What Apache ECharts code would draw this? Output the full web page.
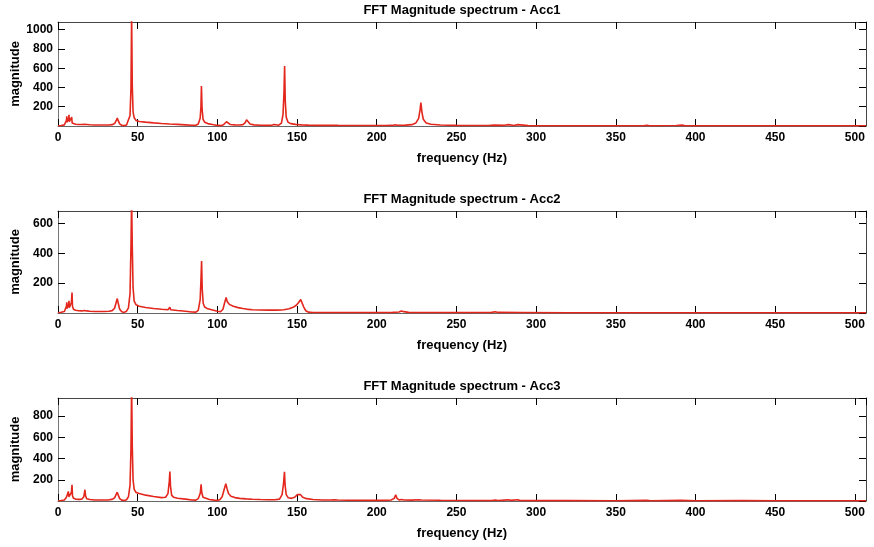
<!DOCTYPE html>
<html>
<head>
<meta charset="UTF-8">
<title>FFT Magnitude spectrum</title>
<script src="https://cdn.jsdelivr.net/npm/echarts@6/dist/echarts.min.js"></script>
<style>
 body{margin:0;background:#fff;}
</style>
</head>
<body>
<div id="mainChart" style="width:874px;height:547px;"></div>
<script type="text/javascript">
// spectrum points: [frequency (Hz), magnitude]
var acc1 = [[0,2],[1,5],[2,6],[3,8],[4,12],[5,20],[5.3,60],[5.5,100],[5.7,40],[6.2,35],[6.7,80],[6.9,117],[7.1,45],[7.6,30],[8.2,40],[8.6,92],[8.9,30],[9.5,22],[11,18],[13,16],[15,15],[16.5,18],[17.3,24],[18,16],[20,13],[23,11],[26,10],[29,10],[32,11],[34,14],[35.5,25],[36.5,55],[37.2,82],[37.8,55],[38.7,22],[40,8],[41.5,4],[43,10],[44.2,30],[45.2,110],[45.8,400],[46.2,1150],[46.6,420],[47.1,150],[47.8,85],[49,58],[51,47],[55,40],[60,32],[65,26],[70,21],[75,17],[80,12],[84,8],[86.5,8],[88,20],[89.2,80],[89.7,200],[90,414],[90.4,180],[91,70],[92,40],[94,25],[97,15],[100,6],[102.5,4],[104,15],[105,35],[105.7,44],[106.5,30],[108,16],[111,12],[114,10],[116,14],[117.5,35],[118.3,65],[118.6,75],[119.2,45],[120.5,20],[123,12],[127,8],[131,6],[134,8],[135.6,15],[136.2,22],[136.8,14],[138.5,8],[140.2,30],[141.2,120],[141.8,350],[142.2,623],[142.6,260],[143.2,90],[144.3,40],[146,25],[149,17],[151,14],[152,18],[153,12],[157,9],[163,7],[170,6],[173.5,8],[174.6,14],[175.8,7],[185,5],[195,5],[205,5],[210,6],[211.6,12],[212.3,16],[213,8],[218,9],[222,14],[224.5,30],[226.3,80],[227.2,170],[227.7,243],[228.3,150],[229.2,70],[231,32],[234,18],[240,11],[250,7],[260,5],[270,5],[273.5,9],[274.5,6],[280,7],[282.8,14],[283.5,9],[286,6],[288.5,14],[289.3,8],[295,4],[310,3],[330,3],[350,3],[368,4],[369.7,8],[371,3],[388,5],[391.5,9],[393,4],[410,3],[430,3],[450,3],[470,2],[490,2],[507,2]];

var acc2 = [[0,2],[1,4],[2,5],[3,7],[4,10],[5,18],[5.3,45],[5.5,71],[5.7,30],[6.3,30],[6.7,60],[6.9,82],[7.1,35],[7.8,25],[8.4,70],[8.8,137],[9.1,45],[9.7,25],[11,18],[13,15],[15,14],[16.5,17],[17.3,22],[18,14],[20,12],[23,10],[26,10],[29,10],[32,12],[34,16],[35.5,32],[36.5,70],[37.2,97],[37.8,65],[38.7,25],[40,8],[41.5,4],[43,12],[44.2,35],[45.2,130],[45.8,450],[46.2,760],[46.6,450],[47.1,170],[47.8,80],[49,55],[51,45],[55,37],[60,30],[65,25],[69,22],[69.8,30],[70.2,38],[70.7,22],[75,17],[80,12],[84,7],[86.5,6],[88,18],[89.2,90],[89.7,220],[90.1,349],[90.5,160],[91.1,65],[92,40],[94,28],[97,20],[100,12],[102,8],[103.5,25],[104.6,70],[105.5,104],[106.2,75],[107.5,58],[110,45],[113,36],[116,30],[118,27],[118.6,33],[119.3,24],[122,22],[127,20],[132,19],[137,19],[140,20],[141.7,22],[142.1,30],[142.6,22],[145,28],[147.5,38],[149.5,52],[151,70],[152.3,90],[152.7,97],[153.3,80],[154.2,40],[155.5,15],[157,6],[160,3],[170,3],[180,3],[190,3],[200,3],[210,4],[214,7],[215.5,14],[216.2,20],[217,9],[220,4],[240,3],[260,3],[272,4],[274.5,8],[276,4],[290,3],[320,2],[360,2],[400,2],[450,2],[507,2]];

var acc3 = [[0,2],[1,4],[2,5],[3,7],[4,10],[5,16],[5.3,35],[5.5,52],[5.7,25],[6.2,30],[6.5,90],[6.8,40],[7.5,25],[8.4,80],[8.8,153],[9.1,50],[9.7,25],[11,18],[13,15],[15,18],[16.2,40],[16.9,106],[17.3,50],[18,22],[20,14],[23,10],[26,9],[29,9],[32,11],[34,15],[35.5,30],[36.5,62],[37.2,83],[37.8,55],[38.7,22],[40,8],[41.5,4],[43,12],[44.2,40],[45.2,150],[45.8,500],[46.2,1100],[46.6,520],[47.1,200],[47.8,110],[49,80],[51,70],[55,55],[60,42],[65,32],[67.5,35],[69,70],[69.8,180],[70.2,278],[70.6,140],[71.3,55],[72.5,35],[75,26],[80,18],[84,10],[86.5,8],[88,22],[89.3,75],[89.8,156],[90.2,80],[91,35],[92,22],[95,14],[98,8],[100,6],[101.5,12],[103,40],[104.3,110],[105.3,162],[106,120],[107,70],[108.5,45],[111,32],[114,25],[118,20],[122,17],[127,14],[132,12],[136,12],[139,18],[140.6,60],[141.5,160],[142.1,275],[142.5,150],[143.2,60],[144.5,30],[146.5,25],[148.5,35],[150.2,60],[151.2,74],[152.2,60],[153.5,35],[156,22],[160,14],[166,10],[171,9],[173.5,12],[174.5,18],[175.5,10],[182,7],[195,6],[205,6],[209,9],[211,25],[211.9,58],[212.7,25],[214,10],[215.5,15],[216.2,25],[217,10],[222,8],[226.4,12],[227.2,18],[228,10],[240,7],[260,5],[272,5],[274.5,9],[276,5],[282.5,11],[284,6],[288.5,12],[290,5],[300,4],[320,4],[350,3],[369.5,6],[372,3],[391,6],[400,3],[430,5],[450,3],[480,3],[507,3]];

var titles = ['FFT Magnitude spectrum - Acc1', 'FFT Magnitude spectrum - Acc2', 'FFT Magnitude spectrum - Acc3'];
var yMax = [1080, 684, 970];
var freqMax = 507;

var panels = [acc1, acc2, acc3];
var gridTops = [22, 211, 398];
var gridHeights = [104, 102, 103];
var lineColor = '#e3271d';
var font = {color: '#000', fontFamily: 'Liberation Sans, Arial, sans-serif', fontWeight: 'bold', fontSize: 12};
var bigFont = Object.assign({}, font, {fontSize: 13});

var grid = [], xAxis = [], yAxis = [], series = [], title = [];
for (var i = 0; i < panels.length; i++) {
    grid.push({left: 58, width: 808, top: gridTops[i], height: gridHeights[i], containLabel: false, outerBoundsMode: 'none'});
    title.push({
        text: titles[i], left: 462, top: gridTops[i] - 18, textAlign: 'center', padding: 0,
        textStyle: bigFont
    });
    // bottom + top x axes (box with inside ticks)
    xAxis.push({
        type: 'value', gridIndex: i, position: 'bottom', min: 0, max: freqMax, interval: 50,
        name: 'frequency (Hz)', nameLocation: 'middle', nameGap: 26, nameTextStyle: bigFont,
        nameMoveOverlap: false,
        axisLine: {onZero: false, lineStyle: {color: '#666'}},
        axisTick: {inside: true, length: 7, lineStyle: {color: '#000'}},
        axisLabel: Object.assign({margin: 6, showMaxLabel: false}, font),
        splitLine: {show: false}
    });
    xAxis.push({
        type: 'value', gridIndex: i, position: 'top', min: 0, max: freqMax, interval: 50,
        axisLine: {onZero: false, lineStyle: {color: '#444'}},
        axisTick: {inside: true, length: 7, lineStyle: {color: '#000'}},
        axisLabel: {show: false}, splitLine: {show: false}
    });
    // left + right y axes
    yAxis.push({
        type: 'value', gridIndex: i, position: 'left', min: 0, max: yMax[i], interval: 200,
        name: 'magnitude', nameLocation: 'middle', nameRotate: 90, nameGap: 36, nameTextStyle: bigFont,
        nameMoveOverlap: false,
        axisLine: {show: true, onZero: false, lineStyle: {color: '#777'}},
        axisTick: {show: true, inside: true, length: 7, lineStyle: {color: '#000'}},
        axisLabel: Object.assign({margin: 5, showMinLabel: false, showMaxLabel: false,
            formatter: function (v) { return String(v); }}, font),
        splitLine: {show: false}
    });
    yAxis.push({
        type: 'value', gridIndex: i, position: 'right', min: 0, max: yMax[i], interval: 200,
        axisLine: {show: true, onZero: false, lineStyle: {color: '#444'}},
        axisTick: {show: true, inside: true, length: 7, lineStyle: {color: '#000'}},
        axisLabel: {show: false}, splitLine: {show: false}
    });
    series.push({
        type: 'line', xAxisIndex: i * 2, yAxisIndex: i * 2, data: panels[i],
        symbol: 'none', clip: true, animation: false,
        lineStyle: {color: lineColor, width: 1.6}
    });
}

var myChart = echarts.init(document.getElementById('mainChart'));
var option = {
    backgroundColor: '#fff',
    animation: false,
    title: title,
    grid: grid,
    xAxis: xAxis,
    yAxis: yAxis,
    series: series
};
myChart.setOption(option);
</script>
</body>
</html>
